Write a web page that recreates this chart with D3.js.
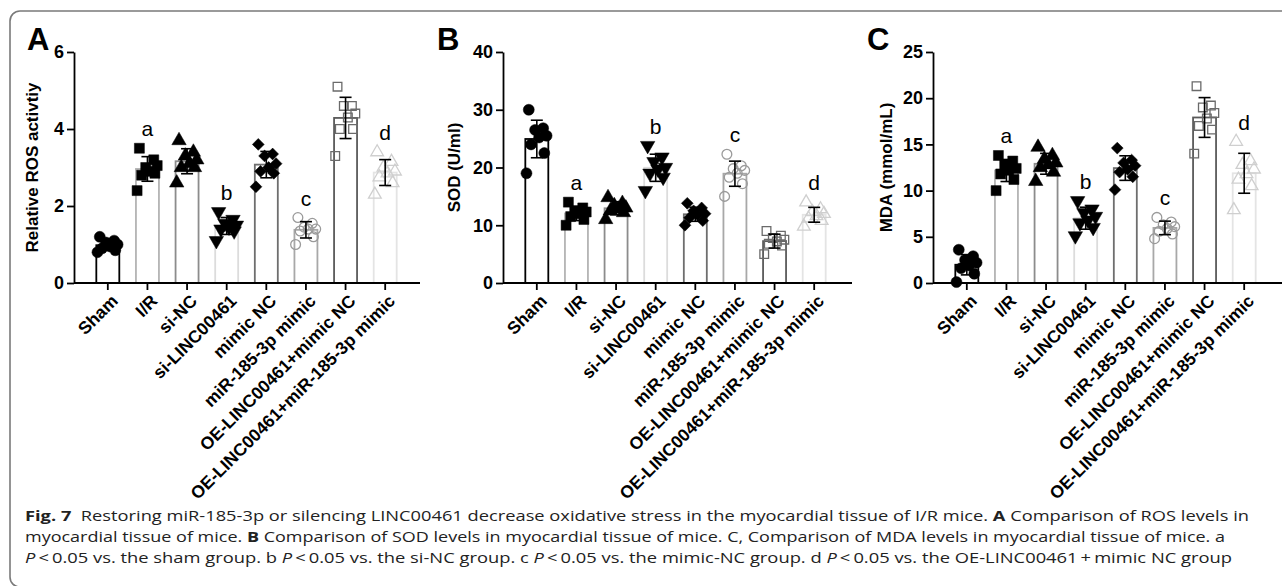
<!DOCTYPE html>
<html>
<head>
<meta charset="utf-8">
<script src="https://cdn.jsdelivr.net/npm/d3@7"></script>
<style>
  body { margin: 0; background: #fff; }
  svg { display: block; }
</style>
</head>
<body>
<svg id="chart" width="1282" height="586"></svg>
<script>
// group names on the x axis (same for all three panels)
var categories = ["Sham", "I/R", "si-NC", "si-LINC00461", "mimic NC", "miR-185-3p mimic",
  "OE-LINC00461+mimic NC", "OE-LINC00461+miR-185-3p mimic"];

// individual animals per group
var rosValues = [
  [1.2, 1.1, 1.05, 1.0, 0.95, 0.9, 0.85, 0.8],
  [3.5, 3.2, 3.0, 3.05, 2.9, 2.8, 2.85, 2.4],
  [3.7, 3.4, 3.3, 3.2, 3.1, 3.0, 3.0, 2.6],
  [1.85, 1.65, 1.55, 1.5, 1.45, 1.4, 1.35, 1.1],
  [3.6, 3.35, 3.3, 3.1, 3.0, 2.9, 2.85, 2.5],
  [1.7, 1.55, 1.45, 1.4, 1.4, 1.35, 1.2, 1.0],
  [5.1, 4.6, 4.6, 4.4, 4.3, 4.0, 4.0, 3.3],
  [3.4, 3.15, 3.0, 2.9, 2.85, 2.75, 2.6, 2.3]
];
var sodValues = [
  [30, 26.8, 26.5, 25.5, 25.2, 24, 22.5, 19],
  [14, 13, 12.5, 12.3, 12, 11.5, 11, 10],
  [14.8, 13.8, 13.4, 13, 12.8, 12.5, 12.2, 11],
  [23.8, 21.8, 21, 20, 19.7, 19, 18.3, 16],
  [13.8, 13, 12.5, 12, 11.8, 11.3, 10.8, 10],
  [22.3, 20.3, 19.8, 19.5, 19, 18.3, 17.2, 15],
  [9, 8.2, 7.8, 7.5, 7.2, 6.8, 6.5, 5],
  [14, 12.8, 12.3, 12, 11.6, 11.2, 10.8, 9.8]
];
var mdaValues = [
  [3.6, 2.9, 2.5, 2.2, 1.9, 1.6, 1.0, 0.1],
  [13.8, 13.2, 12.8, 12.4, 12.2, 11.8, 11.2, 10],
  [14.7, 13.8, 13.4, 13, 12.8, 12.5, 12, 11],
  [8.9, 8, 7.6, 7.2, 6.8, 6.5, 6, 5.1],
  [14.6, 13.3, 13, 12.7, 12.3, 12, 11.5, 10.1],
  [7.1, 6.6, 6.3, 6.1, 5.9, 5.6, 5.3, 4.8],
  [21.3, 19.2, 19.0, 18.4, 17.8, 17.0, 16.6, 14.0],
  [15.3, 13.2, 12.8, 12.3, 11.8, 11.2, 10.5, 7.9]
];

var rosTicks = [0, 2, 4, 6];
var sodTicks = [0, 10, 20, 30, 40];
var mdaTicks = [0, 5, 10, 15, 20, 25];

// significance letters above groups
var sigLetters = ["", "a", "", "b", "", "c", "", "d"];

// look of each group (bar outline, marker)
var barStroke = ["#000", "#b4b4b4", "#8c8c8c", "#dcdcdc", "#6e6e6e", "#a8a8a8", "#5a5a5a", "#e4e4e4"];
var markerType = ["circle", "square", "triangle", "triangleDown", "diamond", "circle", "square", "triangle"];
var markerFill = ["#000", "#000", "#000", "#000", "#000", "none", "none", "none"];
var markerStroke = ["#000", "#000", "#000", "#000", "#000", "#9a9a9a", "#6a6a6a", "#cfcfcf"];
// spread of points inside a bar, fraction of half bar width
var jitter = [-0.7, 0.55, -0.15, 0.85, 0.2, -0.5, 0.65, -0.9];

var captionLines = [
  [["Fig. 7", "b"], ["  Restoring miR-185-3p or silencing LINC00461 decrease oxidative stress in the myocardial tissue of I/R mice. ", ""], ["A", "b"], [" Comparison of ROS levels in", ""]],
  [["myocardial tissue of mice. ", ""], ["B", "b"], [" Comparison of SOD levels in myocardial tissue of mice. C, Comparison of MDA levels in myocardial tissue of mice. a", ""]],
  [["P", "i"], ["\u2009<\u20090.05 vs. the sham group. b ", ""], ["P", "i"], ["\u2009<\u20090.05 vs. the si-NC group. c ", ""], ["P", "i"], ["\u2009<\u20090.05 vs. the mimic-NC group. d ", ""], ["P", "i"], ["\u2009<\u20090.05 vs. the OE-LINC00461\u2009+\u2009mimic NC group", ""]]
];

var svg = d3.select("#chart");
var font = "Liberation Sans, Arial, Helvetica, sans-serif";

svg.append("rect").attr("width", 1282).attr("height", 586).attr("fill", "#fff");

// outer frame of the figure
svg.append("rect")
  .attr("x", 10).attr("y", 11)
  .attr("width", 1300).attr("height", 576)
  .attr("rx", 10)
  .attr("fill", "none")
  .attr("stroke", "#7a7a7a")
  .attr("stroke-width", 1.6);

var panels = [
  {letter: "A", values: rosValues, ticks: rosTicks, title: "Relative ROS activtiy", axisX: 74, axisEnd: 420, titleGap: 36},
  {letter: "B", values: sodValues, ticks: sodTicks, title: "SOD (U/ml)", axisX: 503, axisEnd: 852, titleGap: 43},
  {letter: "C", values: mdaValues, ticks: mdaTicks, title: "MDA (mmol/mL)", axisX: 933, axisEnd: 1282, titleGap: 41}
];

var plotTop = 52, plotBottom = 283;

function symbolPath(type, size) {
  if (type == "triangleDown" || type == "triangle") return d3.symbol(d3.symbolTriangle, size)();
  if (type == "diamond" || type == "square") return d3.symbol(d3.symbolSquare, size)();
  return d3.symbol(d3.symbolCircle, size)();
}
function symbolRotate(type) {
  if (type == "triangleDown") return 180;
  if (type == "diamond") return 45;
  return 0;
}

panels.forEach(function(p) {
  var g = svg.append("g");

  var x = d3.scaleBand()
    .domain(categories)
    .range([p.axisX + 14, p.axisX + 331])
    .paddingInner(0.42)
    .paddingOuter(0.21);

  var y = d3.scaleLinear()
    .domain([0, d3.max(p.ticks)])
    .range([plotBottom, plotTop]);

  var stats = p.values.map(function(v, i) {
    return {name: categories[i], i: i, pts: v, mean: d3.mean(v), sd: d3.deviation(v)};
  });
  var cx = d => x(d.name) + x.bandwidth() / 2;

  // bars
  g.selectAll(".bar").data(stats).enter().append("rect")
    .attr("class", "bar")
    .attr("x", d => x(d.name))
    .attr("width", x.bandwidth())
    .attr("y", d => y(d.mean))
    .attr("height", d => y(0) - y(d.mean))
    .attr("fill", "#fff")
    .attr("stroke", d => barStroke[d.i])
    .attr("stroke-width", 1.8);

  // points
  stats.forEach(function(d) {
    var type = markerType[d.i];
    var open = markerFill[d.i] == "none";
    var size = open ? 75 : (type == "circle" ? 95 : 100);
    if (type.indexOf("triangle") == 0) size = open ? 70 : 90;
    if (type == "diamond") size = 70;
    g.selectAll(null).data(d.pts).enter().append("path")
      .attr("d", symbolPath(type, size))
      .attr("transform", (v, k) => "translate(" + (cx(d) + jitter[k] * x.bandwidth() * 0.5) + "," + y(v) + ") rotate(" + symbolRotate(type) + ")")
      .attr("fill", markerFill[d.i])
      .attr("stroke", markerStroke[d.i])
      .attr("stroke-width", open ? 1.3 : 0.5);
  });

  // error bars (mean +/- SD)
  var cap = 6;
  var eb = g.selectAll(".eb").data(stats).enter().append("g")
    .attr("stroke", "#000").attr("stroke-width", 1.6);
  eb.append("line")
    .attr("x1", cx).attr("x2", cx)
    .attr("y1", d => y(d.mean + d.sd)).attr("y2", d => y(d.mean - d.sd));
  eb.append("line")
    .attr("x1", d => cx(d) - cap).attr("x2", d => cx(d) + cap)
    .attr("y1", d => y(d.mean + d.sd)).attr("y2", d => y(d.mean + d.sd));
  eb.append("line")
    .attr("x1", d => cx(d) - cap).attr("x2", d => cx(d) + cap)
    .attr("y1", d => y(d.mean - d.sd)).attr("y2", d => y(d.mean - d.sd));

  // significance letters
  g.selectAll(".sig").data(stats.filter(d => sigLetters[d.i])).enter().append("text")
    .attr("x", cx)
    .attr("y", d => y(Math.max(d3.max(d.pts), d.mean + d.sd)) - 12)
    .attr("text-anchor", "middle")
    .attr("font-family", font)
    .attr("font-size", 21)
    .text(d => sigLetters[d.i]);

  // y axis
  var yAxis = g.append("g")
    .attr("transform", "translate(" + p.axisX + ",0)")
    .call(d3.axisLeft(y).tickValues(p.ticks).tickFormat(d3.format("d")).tickSize(7).tickPadding(3).tickSizeOuter(0));
  yAxis.select(".domain").attr("stroke-width", 1.8);
  yAxis.selectAll(".tick line").attr("stroke-width", 1.8);
  yAxis.selectAll("text").attr("font-family", font).attr("font-weight", "bold").attr("font-size", 18).attr("fill", "#000");

  // x axis
  var xAxis = g.append("g")
    .attr("transform", "translate(0," + plotBottom + ")")
    .call(d3.axisBottom(x).tickSize(7).tickSizeOuter(0));
  xAxis.select(".domain").attr("d", "M" + p.axisX + ",0H" + p.axisEnd).attr("stroke-width", 1.8);
  xAxis.selectAll(".tick line").attr("stroke-width", 1.8);
  xAxis.selectAll("text")
    .attr("font-family", font).attr("font-weight", "bold").attr("font-size", 17.5).attr("fill", "#000")
    .attr("text-anchor", "end")
    .attr("dy", 0)
    .attr("transform", "translate(4,12) rotate(-45)");

  // y title
  g.append("text")
    .attr("transform", "translate(" + (p.axisX - p.titleGap) + "," + ((plotTop + plotBottom) / 2) + ") rotate(-90)")
    .attr("text-anchor", "middle")
    .attr("font-family", font).attr("font-weight", "bold").attr("font-size", 17)
    .text(p.title);

  // panel letter
  g.append("text")
    .attr("x", p.axisX - (p.letter == "A" ? 47 : 66)).attr("y", 50)
    .attr("font-family", font).attr("font-weight", "bold").attr("font-size", 31)
    .text(p.letter);
});

// caption
var capWidths = [1224, 1200, 1207];
var capY = [521, 542, 563];
captionLines.forEach(function(line, li) {
  var t = svg.append("text")
    .attr("x", 25).attr("y", capY[li])
    .attr("font-family", "Open Sans, Noto Sans, sans-serif")
    .attr("font-size", 15)
    .attr("fill", "#222")
    .attr("xml:space", "preserve");
  line.forEach(function(seg) {
    t.append("tspan")
      .attr("font-weight", seg[1] == "b" ? "bold" : null)
      .attr("font-style", seg[1] == "i" ? "italic" : null)
      .text(seg[0]);
  });
  t.attr("textLength", capWidths[li]).attr("lengthAdjust", "spacingAndGlyphs");
});
</script>
</body>
</html>
